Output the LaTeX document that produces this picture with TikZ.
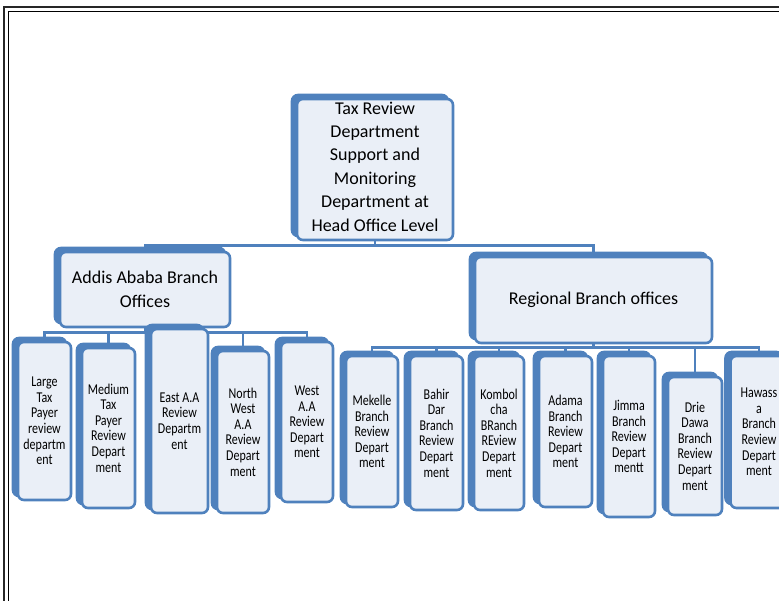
\documentclass[tikz,border=0pt]{standalone}
\usepackage{fontspec}
\setmainfont{Carlito}
\newfontfamily\narrowfont[FakeStretch=0.8]{Carlito}
\usetikzlibrary{shadows,backgrounds}
\definecolor{orgblue}{RGB}{79,129,189}
\definecolor{orgfill}{RGB}{234,239,247}
\tikzset{
  orgbox/.style={draw=orgblue, line width=2.6pt, fill=orgfill, rounded corners=6pt,
    inner sep=0pt, align=center,
    copy shadow={shadow xshift=-5pt, shadow yshift=4pt, fill=orgblue, draw=orgblue}},
  bigtext/.style={font=\fontsize{18}{23.4}\selectfont},
  smalltext/.style={font=\narrowfont\fontsize{15}{15.6}\selectfont},
  link/.style={draw=orgblue, line width=2.6pt}
}
\begin{document}
\begin{tikzpicture}[x=1pt,y=-1pt]
  \useasboundingbox (0,0) rectangle (779,601);
  %% page frame
  \draw[line width=1.3pt, black!85] (4,601) -- (4,7) -- (779,7);
  \draw[line width=0.8pt] (8.5,601) -- (8.5,11) -- (779,11);
  %% head office
  \node[orgbox,bigtext,minimum width=156pt,minimum height=141pt] (head) at (375,169.5)
    {Tax Review\\Department\\Support and\\Monitoring\\Department at\\Head Office Level\\[-17.4pt]};
  %% branch offices
  \node[orgbox,bigtext,minimum width=170pt,minimum height=75pt] (addis) at (145,289.5)
    {Addis Ababa Branch\\Offices};
  \node[orgbox,bigtext,minimum width=237pt,minimum height=86pt] (regional) at (593.5,300)
    {Regional Branch offices};
  %% Addis Ababa departments
  \node[orgbox,smalltext,minimum width=53pt,minimum height=158pt] (large) at (44.5,421)
    {Large\\Tax\\Payer\\review\\departm\\ent};
  \node[orgbox,smalltext,minimum width=53pt,minimum height=160pt] (medium) at (108.5,428)
    {Medium\\Tax\\Payer\\Review\\Depart\\ment};
  \node[orgbox,smalltext,minimum width=57pt,minimum height=184pt] (east) at (179.5,421)
    {East A.A\\Review\\Departm\\ent};
  \node[orgbox,smalltext,minimum width=52pt,minimum height=162pt] (northwest) at (243,432)
    {North\\West\\A.A\\Review\\Depart\\ment};
  \node[orgbox,smalltext,minimum width=52pt,minimum height=160pt] (west) at (307,422)
    {West\\A.A\\Review\\Depart\\ment};
  %% regional departments
  \node[orgbox,smalltext,minimum width=52pt,minimum height=151pt] (mekelle) at (372,431.5)
    {Mekelle\\Branch\\Review\\Depart\\ment};
  \node[orgbox,smalltext,minimum width=53pt,minimum height=154pt] (bahirdar) at (436.5,433)
    {Bahir\\Dar\\Branch\\Review\\Depart\\ment};
  \node[orgbox,smalltext,minimum width=50pt,minimum height=154pt] (kombolcha) at (499,433)
    {Kombol\\cha\\BRanch\\REview\\Depart\\ment};
  \node[orgbox,smalltext,minimum width=53pt,minimum height=151pt] (adama) at (565.5,431.5)
    {Adama\\Branch\\Review\\Depart\\ment};
  \node[orgbox,smalltext,minimum width=52pt,minimum height=161pt] (jimma) at (629,436.5)
    {Jimma\\Branch\\Review\\Depart\\mentt};
  \node[orgbox,smalltext,minimum width=54pt,minimum height=138pt] (diredawa) at (695,446)
    {Drie\\Dawa\\Branch\\Review\\Depart\\ment};
  \node[orgbox,smalltext,minimum width=57pt,minimum height=152pt] (hawassa) at (759,432)
    {Hawass\\a\\Branch\\Review\\Depart\\ment};
  %% Connectors
  \begin{scope}[on background layer]
    \draw[link] (head.south) -- ++(0,4) coordinate (headbus);
    \draw[link] (headbus) -| (addis.north);
    \draw[link] (headbus) -| (regional.north);
    \draw[link] (addis.south) -- ++(0,4) coordinate (addisbus);
    \foreach \dept in {large,medium,east,northwest,west}
      \draw[link] (addisbus) -| (\dept.north);
    \draw[link] (regional.south) -- ++(0,3) coordinate (regionbus);
    \foreach \dept in {mekelle,bahirdar,kombolcha,adama,jimma,diredawa,hawassa}
      \draw[link] (regionbus) -| (\dept.north);
  \end{scope}
\end{tikzpicture}
\end{document}
